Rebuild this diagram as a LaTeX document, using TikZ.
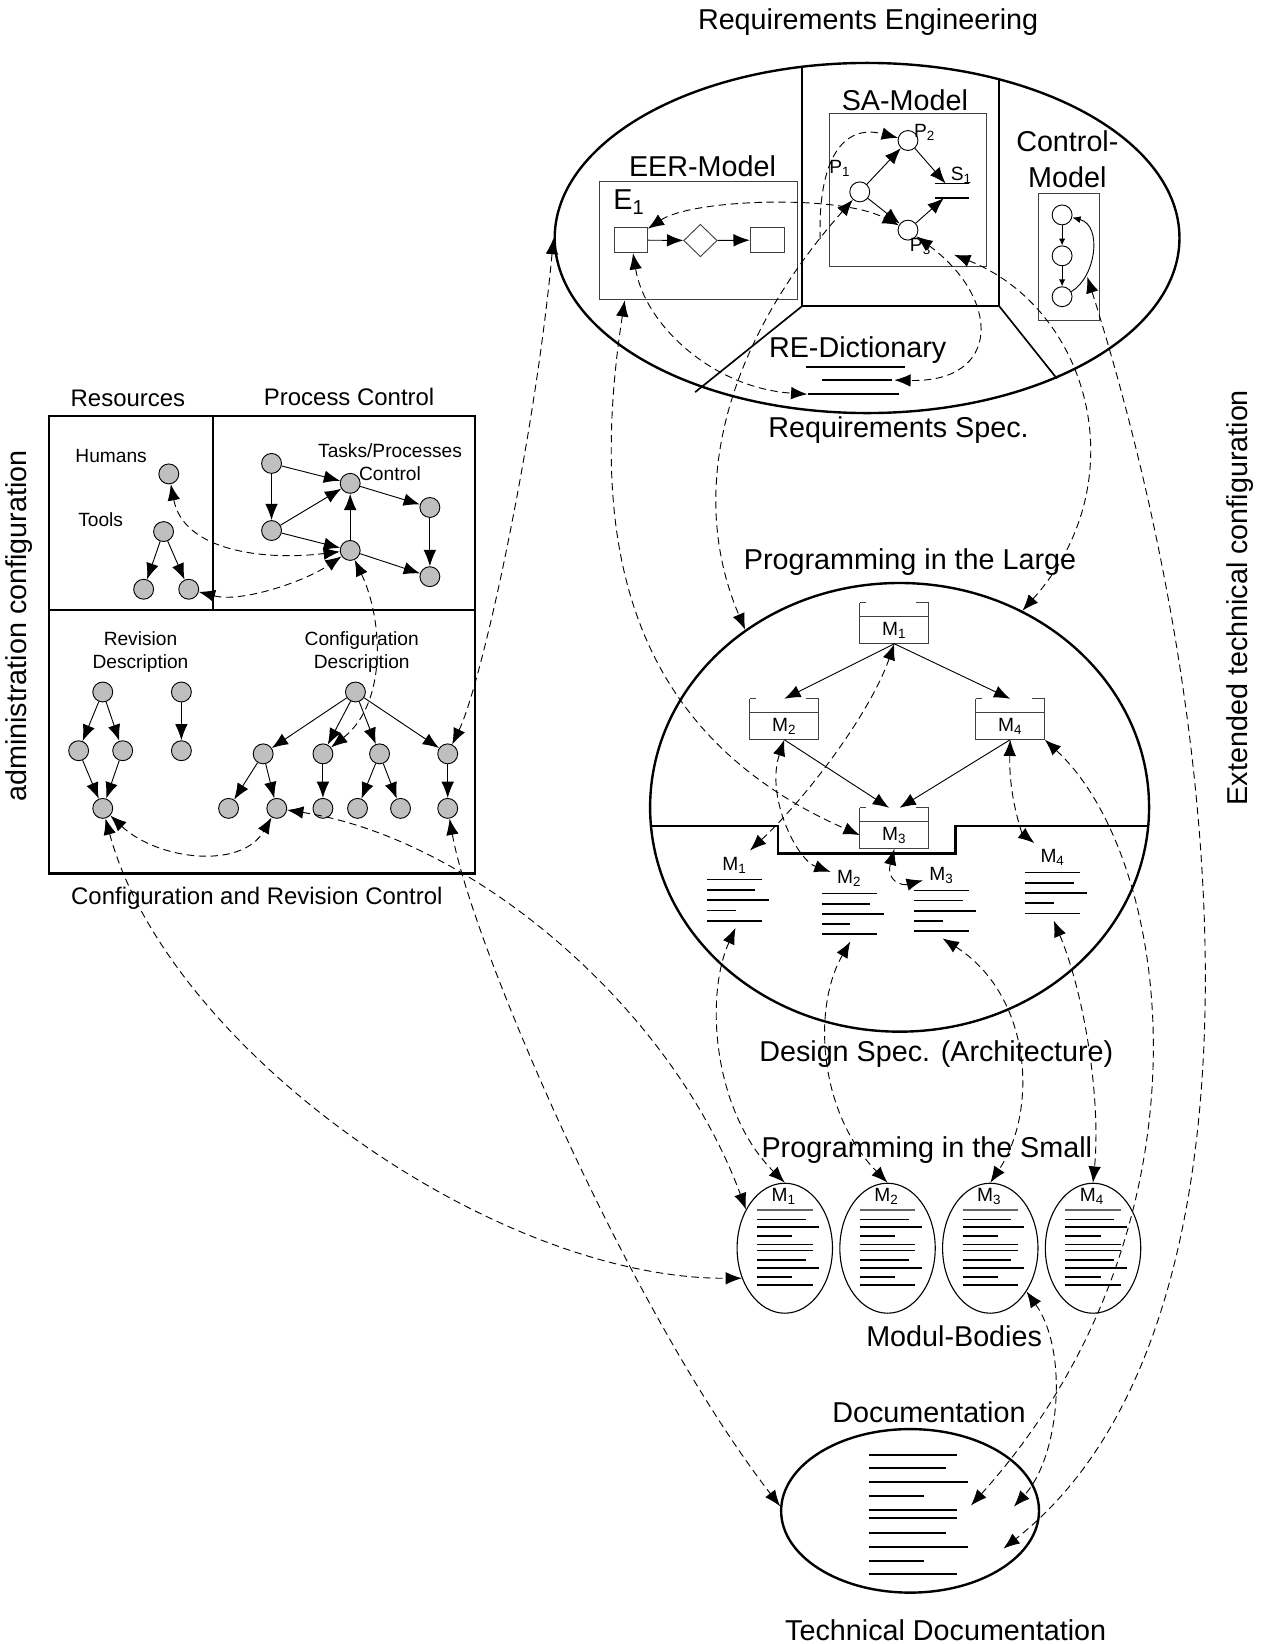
\documentclass[tikz,border=0pt]{standalone}
\usepackage{fontspec}
\setmainfont{Liberation Sans}
\usetikzlibrary{shapes.geometric,arrows.meta}
\tikzset{gnode/.style={circle,draw,fill=gray!50,line width=0.5pt,minimum size=0.38cm,inner sep=0pt}}
\tikzset{wnode/.style={circle,draw,line width=0.5pt,minimum size=0.38cm,inner sep=0pt}}
\tikzset{bigtext/.style={font=\fontsize{15.6}{19.4}\selectfont}}
\tikzset{midtext/.style={font=\fontsize{13}{15.6}\selectfont}}
\tikzset{smalltext/.style={font=\fontsize{10.4}{12.5}\selectfont}}
\tikzset{link/.style={<->,dash pattern=on 4pt off 2.5pt,line width=0.5pt}}
\tikzset{thickline/.style={line width=1.3pt}}
\tikzset{boxline/.style={line width=0.5pt,black!75}}
\tikzset{modbox/.style={rectangle,minimum width=1.32cm,minimum height=0.78cm,inner sep=0pt,outer sep=0pt}}

\begin{document}
\begin{tikzpicture}[x=0.02cm,y=-0.02cm,>={Latex[length=3.1mm,width=2.4mm]}]
\useasboundingbox (0,0) rectangle (1203,1568);

% administration side
\draw[thickline] (47,397) rectangle (453,833);
\draw[thickline] (203,397) -- (203,582);
\draw[thickline] (47,582) -- (453,582);
\node[bigtext,rotate=90] (tAdm) at (18,597) {administration configuration};
\node[midtext] (tRes) at (122,380) {Resources};
\node[midtext] (tProc) at (333,379) {Process Control};
\node[midtext] (tCRC) at (245,857) {Configuration and Revision Control};
\node[smalltext] (tHum) at (106,435) {Humans};
\node[smalltext] (tTools) at (96,496) {Tools};
\node[smalltext,align=center] (tTask) at (372,441) {Tasks/Processes\\Control};
\node[smalltext,align=center] (tRev) at (134,622) {Revision\\Description};
\node[smalltext,align=center] (tConf) at (345,622) {Configuration\\Description};

\node[gnode] (hum) at (161,452) {};
\node[gnode] (tool) at (156,507) {};
\node[gnode] (toolA) at (137,562) {};
\node[gnode] (toolB) at (180,562) {};
\node[gnode] (pA) at (259,442) {};
\node[gnode] (pB) at (259,506) {};
\node[gnode] (pC) at (334,461) {};
\node[gnode] (pD) at (334,525) {};
\node[gnode] (pE) at (410,484) {};
\node[gnode] (pF) at (410,550) {};
\node[gnode] (rTop) at (98,660) {};
\node[gnode] (rL) at (75,716) {};
\node[gnode] (rR) at (117,716) {};
\node[gnode] (rBot) at (98,771) {};
\node[gnode] (sTop) at (173,660) {};
\node[gnode] (sBot) at (173,716) {};
\node[gnode] (cRoot) at (339,660) {};
\node[gnode] (cc1) at (251,719) {};
\node[gnode] (cc2) at (308,719) {};
\node[gnode] (cc3) at (362,719) {};
\node[gnode] (cc4) at (427,719) {};
\node[gnode] (g1) at (218,771) {};
\node[gnode] (g2) at (264,771) {};
\node[gnode] (g3) at (308,771) {};
\node[gnode] (g4) at (341,771) {};
\node[gnode] (g5) at (382,771) {};
\node[gnode] (g6) at (427,771) {};
\foreach \a/\b in {tool/toolA,tool/toolB,pA/pC,pA/pB,pB/pC,pB/pD,pD/pC,pC/pE,pE/pF,pD/pF,
  rTop/rL,rTop/rR,rL/rBot,rR/rBot,sTop/sBot,cRoot/cc1,cRoot/cc2,cRoot/cc3,cRoot/cc4,
  cc1/g1,cc1/g2,cc2/g3,cc3/g4,cc3/g5,cc4/g6}
  \draw[->,line width=0.5pt] (\a) -- (\b);

% requirements engineering
\node[bigtext] (tRE) at (828,21) {Requirements Engineering};
\node[ellipse,draw,thickline,minimum width=11.92cm,minimum height=6.68cm] (RE) at (827,227) {};
\draw[line width=0.9pt] (765,64) -- (765,292) -- (953,292) -- (953,76);
\draw[line width=0.9pt] (765,292) -- (663,374);
\draw[line width=0.9pt] (953,292) -- (1008,361);

\node[bigtext] (tEER) at (670,159) {EER-Model};
\node[draw,boxline,minimum width=3.79cm,minimum height=2.26cm] (eer) at (666,229.5) {};
\node[bigtext] (tE1) at (600,193) {E\textsubscript{1}};
\node[draw,boxline,minimum width=0.63cm,minimum height=0.48cm,inner sep=0pt] (ent1) at (601.7,229) {};
\node[diamond,draw,boxline,minimum width=0.64cm,minimum height=0.62cm,inner sep=0pt] (rel) at (668,229.4) {};
\node[draw,boxline,minimum width=0.66cm,minimum height=0.48cm,inner sep=0pt] (ent2) at (732,229) {};
\draw[->,line width=0.5pt] (ent1) -- (rel);
\draw[->,line width=0.5pt] (rel) -- (ent2);

\node[bigtext] (tSA) at (863,96) {SA-Model};
\node[draw,boxline,minimum width=3cm,minimum height=2.92cm] (sa) at (866,181) {};
\node[wnode] (P1) at (820,183) {};
\node[wnode] (P2) at (866,134) {};
\node[wnode] (P3) at (866,219.5) {};
\node[minimum width=0.64cm,minimum height=0.28cm,inner sep=0pt,outer sep=0pt] (store) at (908,182) {};
\draw[line width=0.9pt] (store.north west) -- (store.north east);
\draw[line width=0.9pt] (store.south west) -- (store.south east);
\node[smalltext] (tP1) at (801,161) {P\textsubscript{1}};
\node[smalltext] (tP2) at (882,126) {P\textsubscript{2}};
\node[smalltext] (tP3) at (878,235) {P\textsubscript{3}};
\node[smalltext] (tS1) at (917,167) {S\textsubscript{1}};
\foreach \a/\b in {P1/P2,P1/P3,P2/store,P3/store}
  \draw[->,line width=0.5pt] (\a) -- (\b);

\node[bigtext,align=center] (tCtrl) at (1018,152) {Control-\\Model};
\node[draw,boxline,minimum width=1.18cm,minimum height=2.43cm] (ctrl) at (1019.5,245) {};
\node[wnode] (c1) at (1013,205) {};
\node[wnode] (c2) at (1013,244) {};
\node[wnode] (c3) at (1013,283) {};
\draw[-{Latex[length=1.3mm,width=1.2mm]},line width=0.5pt] (c1) -- (c2);
\draw[-{Latex[length=1.3mm,width=1.2mm]},line width=0.5pt] (c2) -- (c3);
\draw[-{Latex[length=1.6mm,width=1.3mm]},line width=0.5pt] (c3) .. controls (1045,265) and (1052,215) .. (c1);

\node[bigtext] (tDict) at (818,334) {RE-Dictionary};
\draw[line width=0.6pt] (769,350) -- (863,350);
\draw[line width=1pt] (784,362.5) -- (851,362.5);
\draw[line width=1pt] (771,376) -- (857,376);
\coordinate (dictB) at (770,376);
\coordinate (dictM) at (853,362.5);
\coordinate (saIn) at (910,243);
\coordinate (ctrlIn) at (1037,264);
\node[bigtext] (tReq) at (857,410) {Requirements Spec.};

% programming in the large
\node[bigtext] (tPiL) at (868,536) {Programming in the Large};
\node[ellipse,draw,thickline,minimum width=9.52cm,minimum height=8.56cm] (PiL) at (858,770) {};
\draw[thickline] (621,788) -- (742,788) -- (742,814) -- (911.5,814) -- (911.5,788) -- (1095,788);
\foreach \n/\x/\y/\k in {m1/853/594.5/1,m2/748/686/2,m4/963.5/686/4,m3/853/790/3}{
  \node[modbox] (\n) at (\x,\y) {};
  \node[smalltext] (bl\k) at (\x,\y+6.5) {M\textsubscript{\k}};
  \draw[boxline] (\n.north west) -- (\n.south west) -- (\n.south east) -- (\n.north east);
  \draw[boxline] ([yshift=-0.26cm]\n.north west) -- ([yshift=-0.26cm]\n.north east);
  \draw[boxline] (\n.north west) -- ++(6,0) (\n.north east) -- ++(-12,0);
}
\draw[->,line width=0.5pt] (m1.south) -- (m2.north);
\draw[->,line width=0.5pt] (m1.south) -- (m4.north);
\draw[->,line width=0.5pt] (m2.south) -- ([xshift=-0.1cm]m3.north);
\draw[->,line width=0.5pt] (m4.south) -- ([xshift=0.1cm]m3.north);
\foreach \k/\x/\y in {1/674.5/839,2/784/852,3/872/849,4/978/832}{
  \draw[line width=0.6pt] (\x,\y) -- ++(52,0);
  \foreach \w [count=\i] in {46,59,27,52}
    \draw[line width=1pt] (\x,\y+9.8*\i) -- ++(\w,0);
  \node[smalltext] (dl\k) at (\x+26,\y-14) {M\textsubscript{\k}};
  \coordinate (spec\k) at (\x+27,\y+46);
}
\node[bigtext] (tDes) at (893,1005) {Design Spec. (Architecture)};

% programming in the small
\node[bigtext] (tPiS) at (884,1097) {Programming in the Small};
\foreach \k in {1,...,4}{
  \node[ellipse,draw,line width=0.6pt,minimum width=1.82cm,minimum height=2.48cm,inner sep=0pt] (body\k) at (650.5+98*\k,1190.5) {};
  \node[smalltext] (bol\k) at (649.5+98*\k,1141) {M\textsubscript{\k}};
  \draw[line width=0.6pt,black!60] (624+98*\k,1154) -- ++(53,0);
  \foreach \dy/\w in {-27.4/46.5,-20/59,-11.5/33.7,-3.5/53,2.2/53,11.1/46.5,18.8/59,27.1/33.7,35.3/53}
    \draw[line width=1pt] (624+98*\k,1190.5+\dy) -- ++(\w,0);
}
\node[bigtext] (tMod) at (910,1274) {Modul-Bodies};

% documentation
\node[bigtext] (tDoc) at (886,1347) {Documentation};
\node[ellipse,draw,thickline,minimum width=4.92cm,minimum height=3.12cm] (Doc) at (868,1441) {};
\foreach \y/\w in {1387.4/84.3,1400.4/74.1,1413.8/94.8,1427.2/53.1,1439.9/84.3,1448.1/84.3,1462.1/74.1,1475.2/94.8,1488.5/53.1,1501.3/84.3}
  \draw[line width=1pt] (828.6,\y) -- ++(\w,0);
\coordinate (docA) at (926,1436);
\coordinate (docB) at (967,1437);
\coordinate (docC) at (957,1477);
\node[bigtext] (tTech) at (902,1555) {Technical Documentation};
\node[bigtext,rotate=90] (tExt) at (1183,570) {Extended technical configuration};

% dashed relations
\draw[link] (hum) .. controls (175,525) and (250,535) .. (pD);
\draw[link] (toolB) .. controls (230,575) and (290,555) .. (pD);
\draw[link] (pD) .. controls (365,590) and (370,670) .. (cc2);
\draw[link] (rBot) .. controls (150,820) and (230,830) .. (g2);
\draw[link] (rBot) .. controls (160,1000) and (470,1220) .. (body1.-145);
\draw[link] (g2) .. controls (450,800) and (640,960) .. (body1.135);
\draw[link] (g6) .. controls (450,900) and (600,1250) .. (Doc.178);
\draw[link] (cc4) .. controls (460,650) and (510,420) .. (RE.west);
\draw[link] (ent1) .. controls (615,310) and (680,370) .. (dictB);
\draw[link] (ent1) .. controls (660,190) and (800,185) .. (P3);
\draw[link] (P1) .. controls (690,330) and (655,470) .. (PiL.131) coordinate[pos=0.09] (fork);
\draw[link,->] (fork) .. controls (780,150) and (805,118) .. (P2);
\draw[link] (P3) .. controls (955,285) and (955,365) .. (dictM);
\draw[link] (saIn) .. controls (1040,295) and (1085,460) .. (PiL.58);
\draw[link] (ctrlIn) .. controls (1175,700) and (1220,1270) .. (docC);
\draw[link] (m4.south east) .. controls (1120,820) and (1165,1170) .. (docA);
\draw[link] ([xshift=0.5cm]eer.south west) .. controls (560,520) and (600,700) .. ([yshift=-0.13cm]m3.west);
\draw[link] (m1.south) .. controls (830,680) and (770,760) .. (dl1);
\draw[link] (m2.south) .. controls (730,760) and (760,820) .. (dl2);
\draw[link] (m3.south) .. controls (845,840) and (860,845) .. (dl3);
\draw[link] (m4.south) .. controls (962,760) and (975,795) .. (dl4);
\draw[link] (spec1) .. controls (672,950) and (680,1060) .. (body1.north);
\draw[link] (spec2) .. controls (775,960) and (780,1060) .. (body2.north);
\draw[link] (spec3) .. controls (985,950) and (990,1060) .. (body3.north);
\draw[link] (spec4) .. controls (1035,950) and (1050,1050) .. (body4.north);
\draw[link] (body3.-50) .. controls (1020,1290) and (1010,1390) .. (docB);
\end{tikzpicture}
\end{document}
